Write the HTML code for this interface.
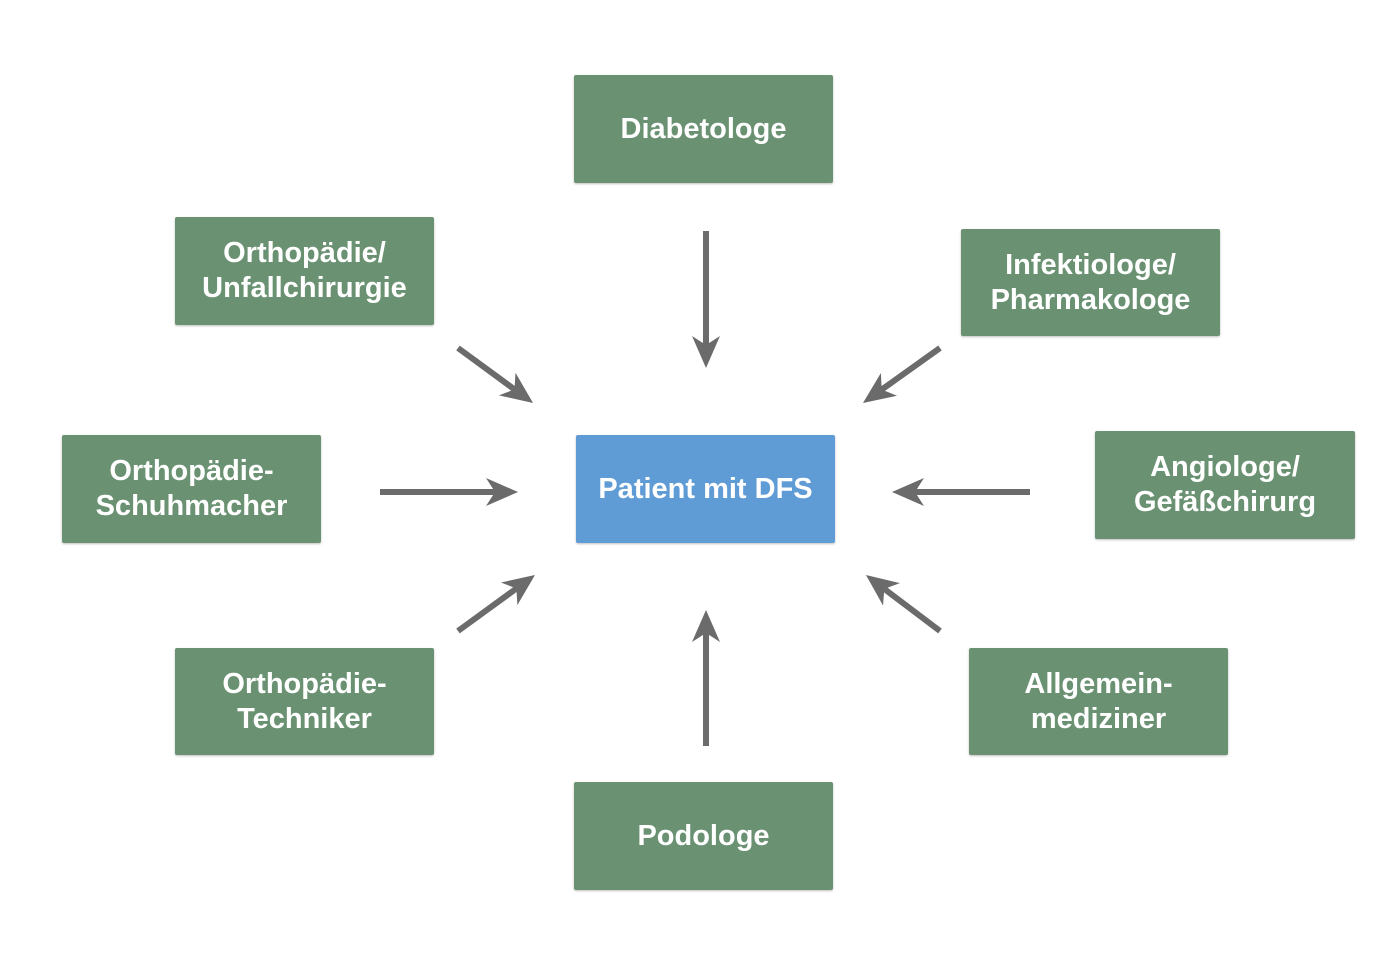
<!DOCTYPE html>
<html><head><meta charset="utf-8"><style>
body{margin:0;background:#fff;width:1398px;height:969px;position:relative;overflow:hidden;font-family:"Liberation Sans","DejaVu Sans",sans-serif}
.b{position:absolute;background:#6a9272;color:#fff;font-weight:bold;font-size:29px;line-height:35px;display:flex;align-items:center;justify-content:center;text-align:center;border-radius:2px;box-shadow:0 1px 2px rgba(0,0,0,.25)}
.p{background:#5f9bd5}
svg{position:absolute;left:0;top:0}
</style></head><body>
<svg width="1398" height="969">
<defs><marker id="a" markerUnits="userSpaceOnUse" markerWidth="34" markerHeight="30" refX="9" refY="14" orient="auto"><path d="M0,0 L32,14 L0,28 L9,14 z" fill="#6b6b6b"/></marker></defs>
<g stroke="#6b6b6b" stroke-width="6" marker-end="url(#a)">
<line x1="706" y1="231" x2="706" y2="345"/>
<line x1="458" y1="348" x2="514.5" y2="389.4"/>
<line x1="940" y1="348" x2="881.7" y2="389.6"/>
<line x1="380" y1="492" x2="495" y2="492"/>
<line x1="1030" y1="492" x2="915" y2="492"/>
<line x1="458" y1="631" x2="516.4" y2="588.5"/>
<line x1="940" y1="631" x2="884.3" y2="588.9"/>
<line x1="706" y1="746" x2="706" y2="633"/>
</g></svg>
<div class="b" style="left:574px;top:75px;width:259px;height:108px">Diabetologe</div>
<div class="b" style="left:175px;top:217px;width:259px;height:108px">Orthopädie/<br>Unfallchirurgie</div>
<div class="b" style="left:961px;top:229px;width:259px;height:107px">Infektiologe/<br>Pharmakologe</div>
<div class="b" style="left:62px;top:435px;width:259px;height:108px">Orthopädie-<br>Schuhmacher</div>
<div class="b p" style="left:576px;top:435px;width:259px;height:108px">Patient mit DFS</div>
<div class="b" style="left:1095px;top:431px;width:260px;height:108px">Angiologe/<br>Gefäßchirurg</div>
<div class="b" style="left:175px;top:648px;width:259px;height:107px">Orthopädie-<br>Techniker</div>
<div class="b" style="left:969px;top:648px;width:259px;height:107px">Allgemein-<br>mediziner</div>
<div class="b" style="left:574px;top:782px;width:259px;height:108px">Podologe</div>
</body></html>
